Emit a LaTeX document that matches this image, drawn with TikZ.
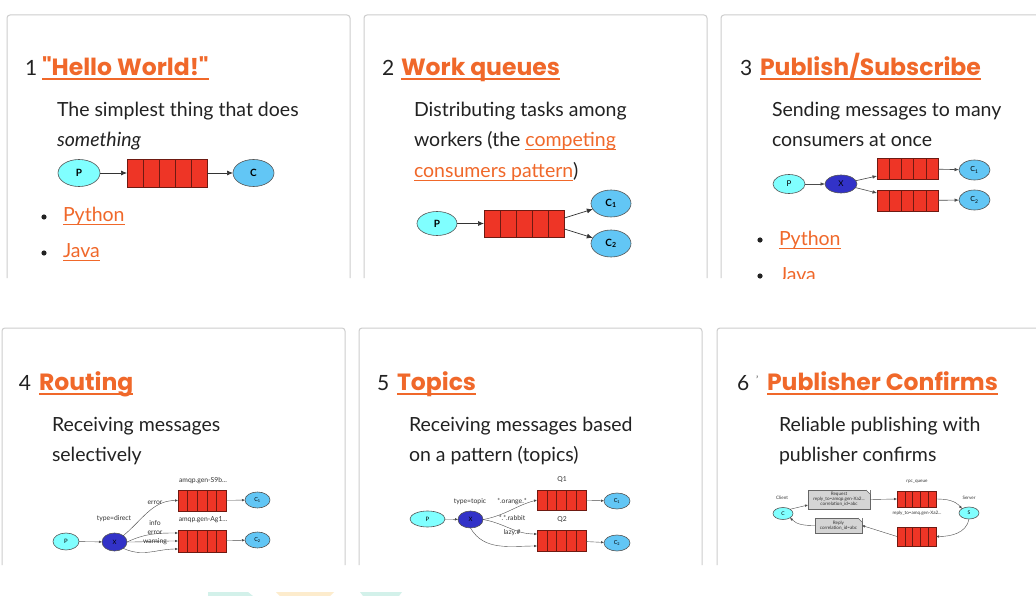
\documentclass[tikz,border=0pt]{standalone}
\usepackage{fontspec}
\setmainfont{Lato}
\newfontfamily\ttlfont{Poppins}
\usetikzlibrary{arrows.meta,calc,shapes.geometric}
\definecolor{orng}{HTML}{F0682A}
\definecolor{txt}{HTML}{222222}
\definecolor{cardc}{HTML}{CDCDCD}
\definecolor{pcyan}{HTML}{80FFFF}
\definecolor{cblue}{HTML}{62C6F5}
\definecolor{xblue}{HTML}{3232C8}
\definecolor{qred}{HTML}{EE3526}
\definecolor{qedge}{HTML}{6E1A12}
\definecolor{edgec}{HTML}{555555}
\definecolor{boxg}{HTML}{D4D4D4}
\definecolor{wmteal}{HTML}{D3F1EA}
\definecolor{wmyel}{HTML}{FDECCD}
\newcommand{\lnk}[1]{\textcolor{orng}{\setbox0\hbox{#1}\rlap{\rule[-3.5pt]{\wd0}{1pt}}\box0}}
\newcommand{\ttlnk}[1]{\setbox0\hbox{#1}\rlap{\rule[-4.5pt]{\wd0}{2pt}}\box0}
\tikzset{
  every node/.style={inner sep=0pt, outer sep=0pt},
  card/.style={draw=cardc, line width=1pt, rounded corners=3pt},
  num/.style={anchor=base west, font=\fontsize{21}{24}\selectfont, text=txt},
  ttl/.style={anchor=base west, font=\ttlfont\fontsize{23.5}{26}\selectfont\bfseries, text=orng},
  body/.style={anchor=base west, font=\fontsize{19.5}{22}\selectfont, text=txt},
  pn/.style={ellipse, draw=edgec, fill=pcyan, line width=0.6pt, font=\fontsize{10}{10}\selectfont\bfseries},
  cn/.style={ellipse, draw=edgec, fill=cblue, line width=0.6pt, font=\fontsize{10}{10}\selectfont\bfseries},
  xn/.style={ellipse, draw=edgec, fill=xblue, line width=0.6pt, font=\fontsize{10}{10}\selectfont\bfseries},
  qbox/.style={rectangle, draw=qedge, fill=qred, line width=0.6pt,
    path picture={
      \foreach \k in {1,2,3,4}{
        \draw[qedge, line width=0.6pt]
          ($(path picture bounding box.south west)!\k/5!(path picture bounding box.south east)$) --
          ($(path picture bounding box.north west)!\k/5!(path picture bounding box.north east)$);
      }}},
  arr/.style={draw=black!80, line width=0.7pt, -{Latex[length=6pt,width=5pt]}},
  sarr/.style={draw=black!70, line width=0.4pt, -{Latex[length=3pt,width=2.5pt]}},
  tiny/.style={font=\fontsize{6.8}{7}\selectfont, text=black!80},
  tinier/.style={font=\fontsize{4.6}{5}\selectfont, text=black!80, align=center},
  gbox/.style={rectangle, draw=black!60, fill=boxg, line width=0.4pt},
}
\begin{document}
\begin{tikzpicture}[x=1pt,y=-1pt]
\clip (0,0) rectangle (1036,596);
\fill[white] (0,0) rectangle (1036,596);

% ---------------- cards ----------------
\draw[card] (7,278) -- (7,15) -- (350,15) -- (350,278);
\draw[card] (364,278) -- (364,15) -- (707,15) -- (707,278);
\draw[card] (721,278) -- (721,15) -- (1045,15) -- (1045,278);
\draw[card] (2,565) -- (2,328) -- (345,328) -- (345,565);
\draw[card] (359,565) -- (359,328) -- (702,328) -- (702,565);
\draw[card] (717,565) -- (717,328) -- (1045,328) -- (1045,565);

% faint shapes at the bottom
\fill[wmteal] (208,592) -- (248,592) -- (253,596) -- (208,596) -- cycle;
\fill[wmyel] (276,592) -- (334,592) -- (330,596) -- (280,596) -- cycle;
\fill[wmteal] (360,592) -- (402,592) -- (399,596) -- (363,596) -- cycle;

% ---------------- panel 1 ----------------
\node[num] (n1) at (25,76) {1};
\node[ttl] (t1) at (42,76) {\ttlnk{"Hello World!"}};
\node[body] (d1a) at (57,117) {The simplest thing that does};
\node[body] (d1b) at (57,147) {\itshape something};
\node[pn, minimum width=42pt, minimum height=27pt] (p1) at (79,173) {P};
\node[qbox, minimum width=80pt, minimum height=28pt] (q1) at (167,173) {};
\node[cn, minimum width=41pt, minimum height=27pt] (c1) at (253.5,173) {C};
\draw[arr] (p1) -- (q1);
\draw[arr] (q1) -- (c1);
\fill[txt] (44,217) circle (2.6);
\node[body] (l1a) at (63,222) {\lnk{Python}};
\fill[txt] (44,253) circle (2.6);
\node[body] (l1b) at (63,258) {\lnk{Java}};

% ---------------- panel 2 ----------------
\node[num] (n2) at (382,76) {2};
\node[ttl] (t2) at (401,76) {\ttlnk{Work queues}};
\node[body] (d2a) at (414,117) {Distributing tasks among};
\node[body] (d2b) at (414,147) {workers (the \lnk{competing}};
\node[body] (d2c) at (414,178) {\lnk{consumers pattern})};
\node[pn, minimum width=40pt, minimum height=24pt] (p2) at (437,223.5) {P};
\node[qbox, minimum width=80pt, minimum height=27pt] (q2) at (524,223.5) {};
\node[cn, minimum width=40pt, minimum height=27pt] (c21) at (611,203.5) {C\textsubscript{1}};
\node[cn, minimum width=40pt, minimum height=27pt] (c22) at (611,243.5) {C\textsubscript{2}};
\draw[arr] (p2) -- (q2);
\draw[arr] ($(q2.north east)!0.3!(q2.south east)$) -- (c21);
\draw[arr] ($(q2.north east)!0.7!(q2.south east)$) -- (c22);

% ---------------- panel 3 ----------------
\begin{scope}
\clip (721,15) rectangle (1036,278);
\node[num] (n3) at (740,76) {3};
\node[ttl] (t3) at (760,76) {\ttlnk{Publish/Subscribe}};
\node[body] (d3a) at (772,117) {Sending messages to many};
\node[body] (d3b) at (772,147) {consumers at once};
\node[pn, minimum width=32pt, minimum height=19pt, font=\fontsize{8}{8}\selectfont] (p3) at (789,184) {P};
\node[xn, minimum width=32pt, minimum height=18pt, font=\fontsize{8}{8}\selectfont] (x3) at (841,184) {X};
\node[qbox, minimum width=61pt, minimum height=21pt] (q31) at (907.5,168.5) {};
\node[qbox, minimum width=61pt, minimum height=21pt] (q32) at (907.5,200.5) {};
\node[cn, minimum width=31pt, minimum height=20pt, font=\fontsize{7}{7}\selectfont] (c31) at (974.5,170) {C\textsubscript{1}};
\node[cn, minimum width=31pt, minimum height=20pt, font=\fontsize{7}{7}\selectfont] (c32) at (974.5,200) {C\textsubscript{2}};
\draw[sarr, line width=0.6pt, -{Latex[length=4.5pt,width=3.5pt]}] (p3) -- (x3);
\draw[sarr, line width=0.6pt, -{Latex[length=4.5pt,width=3.5pt]}] (x3) -- ($(q31.south west)+(0,-3)$);
\draw[sarr, line width=0.6pt, -{Latex[length=4.5pt,width=3.5pt]}] (x3) -- ($(q32.north west)+(0,3)$);
\draw[sarr, line width=0.6pt, -{Latex[length=4.5pt,width=3.5pt]}] (q31) -- (c31);
\draw[sarr, line width=0.6pt, -{Latex[length=4.5pt,width=3.5pt]}] (q32) -- (c32);
\fill[txt] (760,240) circle (2.6);
\node[body] (l3a) at (779,245) {\lnk{Python}};
\fill[txt] (760,276) circle (2.6);
\node[body] (l3b) at (779,281) {\lnk{Java}};
\end{scope}

% ---------------- panel 4 ----------------
\node[num] (n4) at (19,390) {4};
\node[ttl] (t4) at (39,390) {\ttlnk{Routing}};
\node[body] (d4a) at (52,431) {Receiving messages};
\node[body] (d4b) at (52,461) {selectively};
\node[pn, minimum width=26pt, minimum height=17pt, font=\fontsize{6}{6}\selectfont] (p4) at (66,541.5) {P};
\node[xn, minimum width=25pt, minimum height=18pt, font=\fontsize{6}{6}\selectfont] (x4) at (114.5,542) {X};
\node[qbox, minimum width=48pt, minimum height=21pt, line width=0.4pt] (q41) at (202,500.5) {};
\node[qbox, minimum width=48pt, minimum height=22pt, line width=0.4pt] (q42) at (202,541) {};
\node[cn, minimum width=25pt, minimum height=16pt, font=\fontsize{5.5}{6}\selectfont] (c41) at (257.5,500) {C\textsubscript{1}};
\node[cn, minimum width=25pt, minimum height=16pt, font=\fontsize{5.5}{6}\selectfont] (c42) at (257.5,540) {C\textsubscript{2}};
\node[tiny] (lq41) at (203,481) {amqp.gen-S9b...};
\node[tiny] (lq42) at (203,520) {amqp.gen-Ag1...};
\node[tiny] (ltd) at (114,519) {type=direct};
\node[tiny] (le1) at (155,502.5) {error};
\node[tiny] (li) at (155,523) {info};
\node[tiny] (le2) at (155,532.5) {error};
\node[tiny] (lw) at (155,541.5) {warning};
\draw[sarr] (p4) -- (x4);
\draw[sarr] (x4.north east) to[out=40,in=180] (q41.west);
\draw[sarr] (x4.east) to[out=25,in=180] ($(q42.north west)+(0,3)$);
\draw[sarr] (x4.east) to[out=0,in=180] (q42.west);
\draw[sarr] (x4.south east) to[out=-25,in=180] ($(q42.south west)+(0,-3)$);
\draw[sarr] (q41) -- (c41);
\draw[sarr] (q42) -- (c42);

% ---------------- panel 5 ----------------
\node[num] (n5) at (377,390) {5};
\node[ttl] (t5) at (397,390) {\ttlnk{Topics}};
\node[body] (d5a) at (409,431) {Receiving messages based};
\node[body] (d5b) at (409,461) {on a pattern (topics)};
\node[pn, minimum width=35pt, minimum height=16pt, font=\fontsize{6}{6}\selectfont] (p5) at (427.5,519) {P};
\node[xn, minimum width=25pt, minimum height=17pt, font=\fontsize{6}{6}\selectfont] (x5) at (470.5,519.5) {X};
\node[qbox, minimum width=49pt, minimum height=20pt, line width=0.4pt] (q51) at (561.5,500) {};
\node[qbox, minimum width=49pt, minimum height=21pt, line width=0.4pt] (q52) at (561.5,540.5) {};
\node[cn, minimum width=26pt, minimum height=16pt, font=\fontsize{5.5}{6}\selectfont] (c51) at (617,501) {C\textsubscript{1}};
\node[cn, minimum width=26pt, minimum height=16pt, font=\fontsize{5.5}{6}\selectfont] (c52) at (617,543) {C\textsubscript{2}};
\node[tiny] (lq51) at (562,480) {Q1};
\node[tiny] (lq52) at (562,520) {Q2};
\node[tiny] (ltt) at (470,502) {type=topic};
\node[tiny] (lor) at (512,502) {*.orange.*};
\node[tiny] (lra) at (512,518) {*.*.rabbit};
\node[tiny] (lla) at (512,533) {lazy.\#};
\draw[sarr] (p5) -- (x5);
\draw[sarr] (x5.east) to[out=10,in=195] (q51.west);
\draw[sarr] (x5.east) to[out=-10,in=180] ($(q52.north west)+(0,4)$);
\draw[sarr] (x5.south) to[out=-60,in=180] ($(q52.south west)+(0,-5)$);
\draw[sarr] (q51) -- (c51);
\draw[sarr] (q52) -- (c52);

% ---------------- panel 6 ----------------
\node[num] (n6) at (737,390) {6};
\node[anchor=base west, font=\fontsize{10}{10}\selectfont, text=black!70] (ap6) at (756,383) {'};
\node[ttl] (t6) at (767,390) {\ttlnk{Publisher Confirms}};
\node[body] (d6a) at (779,431) {Reliable publishing with};
\node[body] (d6b) at (779,461) {publisher confirms};
\node[pn, minimum width=20pt, minimum height=12pt, font=\fontsize{5}{5}\selectfont] (cl) at (783,513.5) {C};
\node[pn, minimum width=20pt, minimum height=12pt, font=\fontsize{5}{5}\selectfont] (sv) at (969,513) {S};
\node[tinier] (lcl) at (782,498) {Client};
\node[tinier] (lsv) at (969,498) {Server};
\node[gbox, minimum width=62pt, minimum height=19pt, tinier] (req) at (839,499.5) {Request\\reply\_to=amqp.gen-Xa2...\\correlation\_id=abc};
\fill[white] (req.north east) -- ($(req.north east)+(-4,0)$) -- ($(req.north east)+(0,4)$) -- cycle;
\draw[black!60, line width=0.4pt] ($(req.north east)+(-4,0)$) -- ($(req.north east)+(0,4)$);
\node[qbox, minimum width=39pt, minimum height=16pt, line width=0.4pt] (rq1) at (916.5,499) {};
\node[qbox, minimum width=39pt, minimum height=19pt, line width=0.4pt] (rq2) at (916.5,536.5) {};
\node[tinier] (lrq1) at (917,482) {rpc\_queue};
\node[tinier] (lrq2) at (917,513) {reply\_to=amq.gen-Xa2...};
\node[gbox, minimum width=47pt, minimum height=15pt, tinier] (rep) at (838.5,525.5) {Reply\\correlation\_id=abc};
\fill[white] (rep.north east) -- ($(rep.north east)+(-4,0)$) -- ($(rep.north east)+(0,4)$) -- cycle;
\draw[black!60, line width=0.4pt] ($(rep.north east)+(-4,0)$) -- ($(rep.north east)+(0,4)$);
\draw[sarr] (cl.north east) -- ($(req.south west)+(0,-4)$);
\draw[sarr] (req.east) -- (rq1.west);
\draw[sarr] (rq1.east) to[out=0,in=130] (sv.north west);
\draw[sarr] (sv.south) to[out=-100,in=0] (rq2.east);
\draw[sarr] (rq2.west) -- (rep.east);
\draw[sarr] (rep.west) to[out=180,in=-45] (cl.south east);
\end{tikzpicture}
\end{document}
